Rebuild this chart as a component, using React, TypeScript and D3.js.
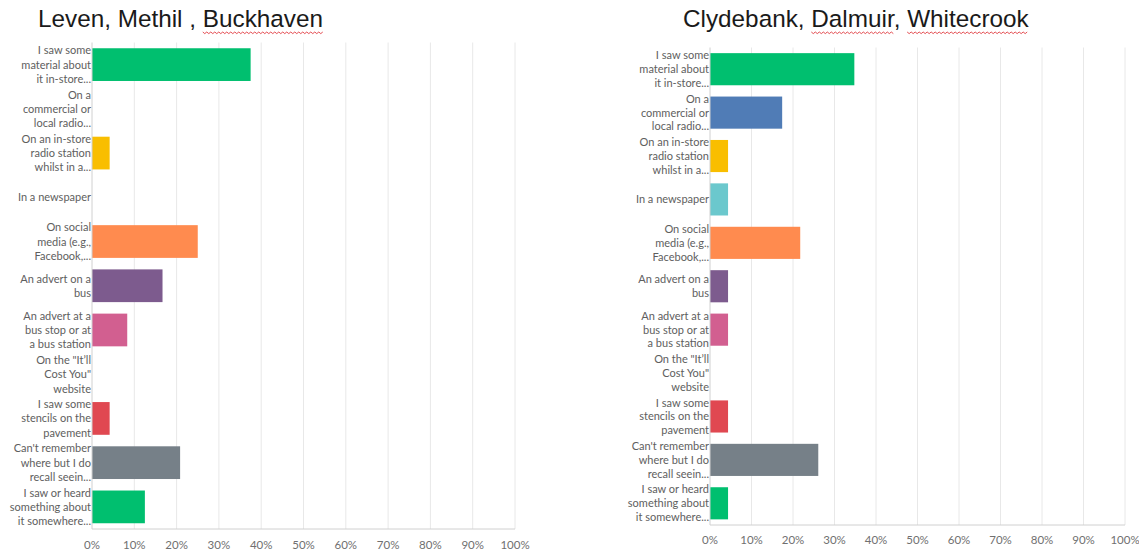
import React, { useEffect, useRef } from "react";
import * as d3 from "d3";

const categories: string[][] = [
  ["I saw some", "material about", "it in-store..."],
  ["On a", "commercial or", "local radio..."],
  ["On an in-store", "radio station", "whilst in a..."],
  ["In a newspaper"],
  ["On social", "media (e.g.,", "Facebook,..."],
  ["An advert on a", "bus"],
  ["An advert at a", "bus stop or at", "a bus station"],
  ["On the \"It’ll", "Cost You\"", "website"],
  ["I saw some", "stencils on the", "pavement"],
  ["Can't remember", "where but I do", "recall seein..."],
  ["I saw or heard", "something about", "it somewhere..."],
];

const levenValues = [37.5, 0, 4.17, 0, 25, 16.67, 8.33, 0, 4.17, 20.83, 12.5];
const clydebankValues = [34.78, 17.39, 4.35, 4.35, 21.74, 4.35, 4.35, 0, 4.35, 26.09, 4.35];

const barColors = [
  "#00BF6F", "#507CB6", "#F9BE00", "#6BC8CD", "#FF8B4F", "#7D5B8E",
  "#D25F90", "#C4CDD3", "#E04851", "#768088", "#00BF6F",
];

const xTicks = [0, 10, 20, 30, 40, 50, 60, 70, 80, 90, 100];

const titles = ["Leven, Methil , Buckhaven", "Clydebank, Dalmuir, Whitecrook"];
const misspelled = [["Buckhaven"], ["Dalmuir", "Whitecrook"]];

const panels = [
  { title: titles[0], values: levenValues, x0: 92, x1: 515, y0: 42.5, y1: 529, titleX: 38, tickY: 549, lh: 14.3, flagged: misspelled[0] },
  { title: titles[1], values: clydebankValues, x0: 710, x1: 1125, y0: 47.5, y1: 525, titleX: 683, tickY: 544, lh: 13.8, flagged: misspelled[1] },
];

export default function App() {
  const ref = useRef<SVGSVGElement>(null);
  useEffect(() => {
    const svg = d3.select(ref.current);
    svg.selectAll("*").remove();
    svg.append("rect").attr("width", 1139).attr("height", 554).attr("fill", "#fff");

    panels.forEach((p) => {
      const g = svg.append("g");
      const x = d3.scaleLinear().domain([0, 100]).range([p.x0, p.x1]);
      const y = d3
        .scaleBand<number>()
        .domain(d3.range(categories.length))
        .range([p.y0, p.y1])
        .paddingInner(0.26)
        .paddingOuter(0.13);

      // gridlines
      g.selectAll("line.grid")
        .data(xTicks.slice(1))
        .join("line")
        .attr("x1", (d) => x(d))
        .attr("x2", (d) => x(d))
        .attr("y1", p.y0)
        .attr("y2", p.y1)
        .attr("stroke", "#e8e8e8")
        .attr("stroke-width", 1);

      // bars
      g.selectAll("rect.bar")
        .data(p.values)
        .join("rect")
        .attr("x", x(0))
        .attr("y", (_, i) => y(i)!)
        .attr("width", (d) => x(d) - x(0))
        .attr("height", y.bandwidth())
        .attr("fill", (_, i) => barColors[i]);

      // axes lines
      g.append("line")
        .attr("x1", x(0)).attr("x2", x(0))
        .attr("y1", p.y0).attr("y2", p.y1)
        .attr("stroke", "#d0d0d0");
      g.append("line")
        .attr("x1", x(0)).attr("x2", x(100))
        .attr("y1", p.y1).attr("y2", p.y1)
        .attr("stroke", "#d0d0d0");

      // tick labels
      g.selectAll("text.tick")
        .data(xTicks)
        .join("text")
        .attr("x", (d) => x(d))
        .attr("y", p.tickY)
        .attr("text-anchor", "middle")
        .attr("font-family", "Lato, 'Open Sans', sans-serif")
        .attr("font-size", 11.5)
        .attr("fill", "#707070")
        .text((d) => `${d}%`);

      // category labels
      categories.forEach((lines, i) => {
        const cy = y(i)! + y.bandwidth() / 2;
        const t = g.append("text")
          .attr("text-anchor", "end")
          .attr("font-family", "Lato, 'Open Sans', sans-serif")
          .attr("font-size", 11)
          .attr("fill", "#5e5e5e");
        lines.forEach((ln, j) => {
          t.append("tspan")
            .attr("x", x(0) - 1)
            .attr("y", cy + (j - (lines.length - 1) / 2) * p.lh + 4)
            .text(ln);
        });
      });

      // title
      const title = svg.append("text")
        .attr("x", p.titleX)
        .attr("y", 27)
        .attr("font-family", "'Liberation Sans', Arial, sans-serif")
        .attr("font-size", 24.3)
        .attr("fill", "#1a1a1a")
        .text(p.title);
      const node = title.node() as SVGTextElement;
      p.flagged.forEach((word) => {
        const idx = p.title.indexOf(word);
        let sx = p.titleX, w = 80;
        try {
          sx = p.titleX + (idx > 0 ? node.getSubStringLength(0, idx) : 0);
          w = node.getSubStringLength(idx, word.length);
        } catch (e) {}
        const pts: [number, number][] = [];
        for (let xx = 0; xx <= w; xx += 2) pts.push([sx + xx, 32 + ((xx / 2) % 2 === 0 ? 0 : 1.6)]);
        svg.append("path")
          .attr("d", d3.line()(pts))
          .attr("fill", "none")
          .attr("stroke", "#e0393e")
          .attr("stroke-width", 0.9);
      });
    });
  }, []);
  return (
    <svg
      ref={ref}
      width={1139}
      height={554}
      style={{ position: "absolute", left: 0, top: 0 }}
    />
  );
}
